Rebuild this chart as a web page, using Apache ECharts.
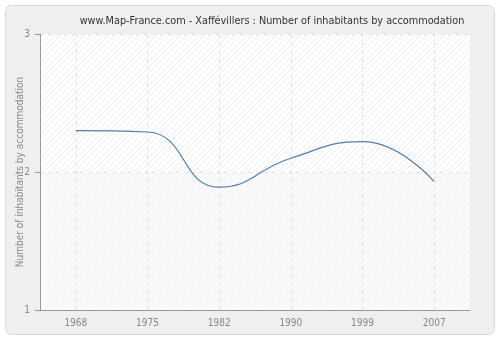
<!DOCTYPE html>
<html><head><meta charset="utf-8">
<script src="https://cdn.jsdelivr.net/npm/echarts@6/dist/echarts.min.js"></script>
<style>html,body{margin:0;padding:0;background:#fff}#c{width:500px;height:340px}</style>
</head><body><div id="c"></div>
<script>
var years = ['1968','1975','1982','1990','1999','2007'];
var values = [2.30, 2.29, 1.89, 2.10, 2.22, 1.93];
var yTicks = [1, 2, 3];
var titleText = 'www.Map-France.com - Xaffévillers : Number of inhabitants by accommodation';
var yName = 'Number of inhabitants by accommodation';
var FONT = '"DejaVu Sans Condensed", "DejaVu Sans", sans-serif';

function hatch(bg, line) {
  var c = document.createElement('canvas');
  c.width = 6; c.height = 6;
  var g = c.getContext('2d');
  g.fillStyle = bg; g.fillRect(0, 0, 6, 6);
  g.strokeStyle = line; g.lineWidth = 1;
  g.beginPath();
  g.moveTo(0, 6); g.lineTo(6, 0);
  g.moveTo(-1, 1); g.lineTo(1, -1);
  g.moveTo(5, 7); g.lineTo(7, 5);
  g.stroke();
  return c;
}
var chart = echarts.init(document.getElementById('c'));
chart.setOption({
  animation: false,
  graphic: [{type: 'rect', z: -100, silent: true,
    shape: {x: 5.5, y: 5.5, width: 489, height: 329, r: 6},
    style: {fill: '#efefef', stroke: '#d8d8d8', lineWidth: 1}}],
  title: {text: titleText, left: 267, top: 11, textAlign: 'center',
    textStyle: {fontFamily: FONT, fontSize: 10.8, fontWeight: 'normal', color: '#333'}},
  grid: {left: 40, right: 30, top: 34, bottom: 30, containLabel: false, outerBoundsMode: 'none'},
  xAxis: {type: 'category', data: years, boundaryGap: true,
    axisLine: {lineStyle: {color: '#999'}},
    axisTick: {alignWithLabel: true, length: 5, lineStyle: {color: '#999'}},
    axisLabel: {color: '#888', fontFamily: FONT, fontSize: 10, margin: 8},
    splitLine: {show: false}},
  yAxis: {type: 'value', min: yTicks[0], max: yTicks[yTicks.length - 1], interval: 1,
    name: yName, nameLocation: 'middle', nameGap: 15, nameMoveOverlap: false,
    nameTextStyle: {color: '#888', fontFamily: FONT, fontSize: 10},
    axisLine: {show: true, lineStyle: {color: '#999'}},
    axisTick: {show: true, length: 5, lineStyle: {color: '#999'}},
    axisLabel: {color: '#888', fontFamily: FONT, fontSize: 10, margin: 10},
    splitLine: {show: true, lineStyle: {color: '#e2e2e2', type: [4, 4]}},
    splitArea: {show: true, areaStyle: {color: [
      {image: hatch('#fafafa', '#f2f2f2'), repeat: 'repeat'},
      {image: hatch('#ffffff', '#ededed'), repeat: 'repeat'}]}}},
  series: [{type: 'line', data: values, smooth: 0.5, showSymbol: false,
    lineStyle: {color: '#4f7db0', width: 1.2},
    markLine: {silent: true, symbol: 'none', label: {show: false}, z: 1,
      lineStyle: {color: '#e2e2e2', type: [4, 4], width: 1},
      data: years.map(function (y) { return {xAxis: y}; })}}]
});
</script></body></html>
